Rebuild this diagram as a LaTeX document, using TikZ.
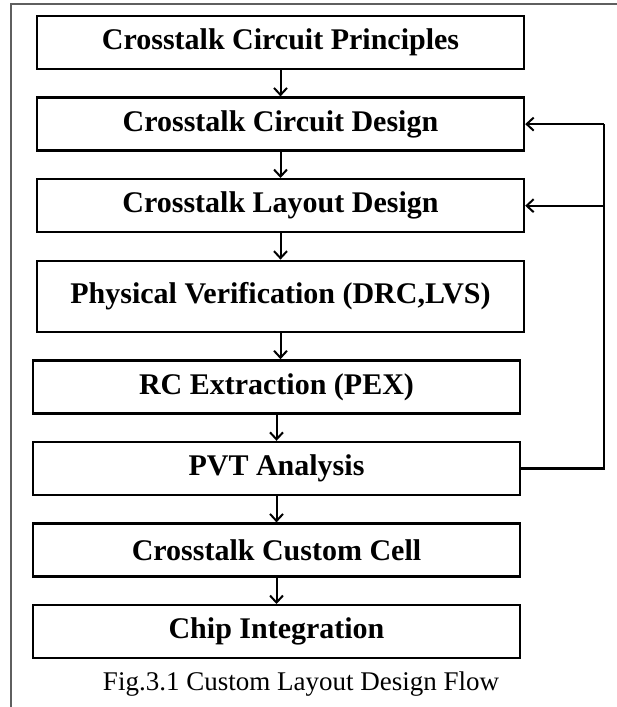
\documentclass[tikz,border=0pt]{standalone}
\usepackage{fontspec}
\setmainfont{Liberation Serif}
\usetikzlibrary{positioning, arrows.meta, calc}
\definecolor{framegray}{RGB}{95,95,95}
\tikzset{
  stepbox/.style={
    rectangle, draw=black, line width=2.4pt, minimum width=487pt,
    minimum height=53pt, inner sep=2pt, font=\fontsize{30}{33}\selectfont\bfseries
  },
  tallbox/.style={stepbox, minimum height=71pt},
  flow/.style={draw, line width=2pt, -{Straight Barb[length=7pt, width=13pt, line width=2pt]}},
  feedback/.style={draw, line width=2.4pt, line join=miter},
  frameline/.style={draw=framegray, line width=2pt},
  caption/.style={font=\fontsize{27}{30}\selectfont, anchor=base},
}

\begin{document}
\begin{tikzpicture}[x=1pt, y=1pt, node distance=26.2pt]
  \useasboundingbox (0,0) rectangle (617,-707);
  \draw[frameline] (11,-707) |- (617,-4);

  \node[stepbox] (b1) at (280.5,-42.5) {Crosstalk Circuit Principles};
  \node[stepbox, below=of b1] (b2) {Crosstalk Circuit Design};
  \node[stepbox, below=of b2] (b3) {Crosstalk Layout Design};
  \node[tallbox, below=of b3] (b4) {Physical Verification (DRC,LVS)};
  \node[stepbox, below=of b4, xshift=-4pt] (b5) {RC Extraction (PEX)};
  \node[stepbox, below=of b5] (b6) {PVT Analysis};
  \node[stepbox, below=of b6] (b7) {Crosstalk Custom Cell};
  \node[stepbox, below=of b7] (b8) {Chip Integration};
  \node[caption] (cap) at (301,-690) {Fig.3.1 Custom Layout Design Flow};

  \path (b1) edge[flow] (b2)
        (b2) edge[flow] (b3)
        (b3) edge[flow] (b4)
        (b4.south) edge[flow] (b4.south |- b5.north)
        (b5) edge[flow] (b6)
        (b6) edge[flow] (b7)
        (b7) edge[flow] (b8);

  % loop back from PVT
  \coordinate (fb) at (604,0);
  \draw[feedback] (b6.east) -- (b6.east -| fb) -- (b2.east -| fb);
  \draw[flow] (b2.east -| fb) -- (b2.east);
  \draw[flow] (b3.east -| fb) -- (b3.east);
\end{tikzpicture}
\end{document}
